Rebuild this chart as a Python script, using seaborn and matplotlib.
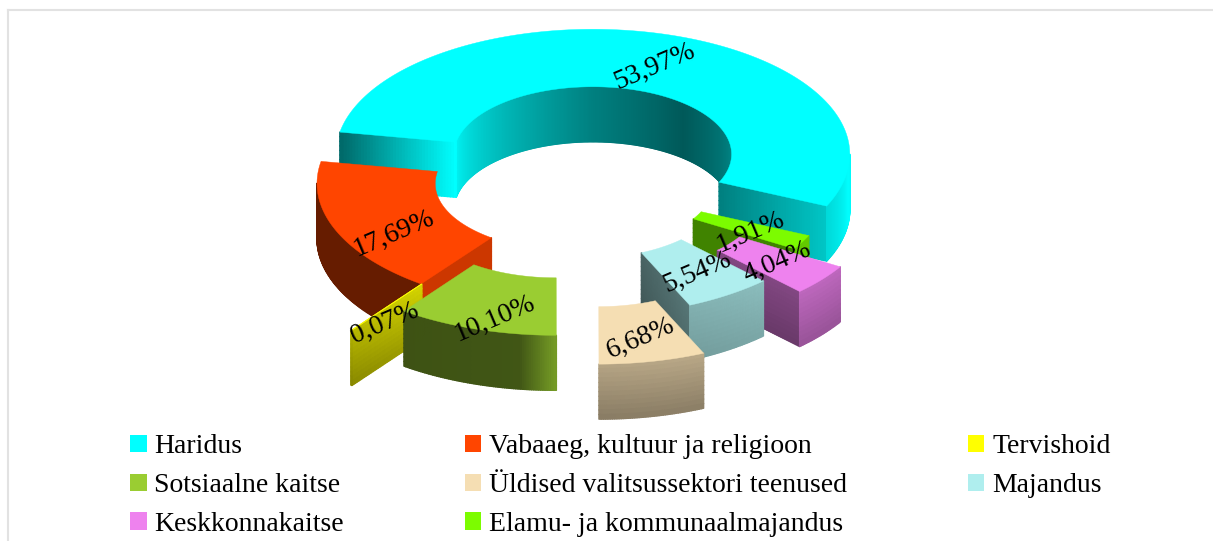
import numpy as np
import matplotlib
matplotlib.use("Agg")
import matplotlib.pyplot as plt
from matplotlib.collections import PolyCollection
from matplotlib.patches import Patch
import seaborn as sns

# Chart data
names = ["Haridus", "Vabaaeg, kultuur ja religioon", "Tervishoid", "Sotsiaalne kaitse",
         "Üldised valitsussektori teenused", "Majandus", "Keskkonnakaitse",
         "Elamu- ja kommunaalmajandus"]
shares = [53.97, 17.69, 0.07, 10.10, 6.68, 5.54, 4.04, 1.91]
share_labels = ["53,97%", "17,69%", "0,07%", "10,10%", "6,68%", "5,54%", "4,04%", "1,91%"]

sns.set_theme(style="white")
plt.rcParams["font.family"] = ["Liberation Serif", "DejaVu Sans"]
colors = sns.color_palette(["#00ffff", "#ff4500", "#ffff00", "#9acd32",
                            "#f5deb3", "#afeeee", "#ee82ee", "#7cfc00"])

# Ring geometry in pixels
hub_x, hub_y = 574, 183.5
rx, ry = 257, 125
hole = 0.54
depth = 55
start_angle = -24.5
explode = [63, 0, 118, 58, 117, 19, 60, 1]
draw_order = [0, 7, 6, 5, 4, 1, 2, 3]
label_nudge = [(3, 4), (4, 15), (-2, 16), (0, 17), (1, 5), (2, 1), (2, 0), (1, 3)]

# Shading: (angle, factor) along the walls, (inner, outer) on the cut faces, darkening downwards
outer_shade = [([-24.5, -5, 180], [0.85, 1.0, 0.45]),
               ([170, 233], [0.40, 0.40]),
               ([233, 235], [0.7, 0.7]),
               ([233, 262, 270.5], [0.40, 0.42, 0.78]),
               ([270, 295], [0.74, 0.76]),
               ([294, 315], [0.74, 0.80]),
               ([314, 329], [0.80, 0.80]),
               ([329, 336], [0.8, 0.8])]
inner_shade = ([0, 50, 90, 130, 170], [0.55, 0.35, 0.5, 0.72, 0.95])
face_shade = [{"start": (0.5, 0.78), "end": (1.0, 0.4)},
              {"end": (0.8, 0.8)},
              {"end": (0.84, 0.72)},
              {}, {},
              {"start": (0.42, 0.5)},
              {"start": (0.55, 0.55)},
              {"start": (0.52, 0.52)}]
z_fade = [0.0, 0.0, 0.25, 0.0, 0.25, 0.12, 0.2, 0.0]

fig = plt.figure(figsize=(12.13, 5.41), dpi=100)
ax = fig.add_axes([8 / 1213, 0, 1205 / 1213, 531 / 541])
ax.set_xlim(8, 1213)
ax.set_ylim(541, 10)
ax.set_xticks([])
ax.set_yticks([])
sns.despine(ax=ax, top=False, left=False, right=True, bottom=True)
for side in ["top", "left"]:
    ax.spines[side].set_color("#e2e2e2")
    ax.spines[side].set_linewidth(1.5)


def ring_point(c, r, t):
    rad = np.radians(t)
    return c[0] + r * rx * np.cos(rad), c[1] - r * ry * np.sin(rad)


def add_quads(quads, cols, z):
    ax.add_collection(PolyCollection(quads, facecolors=cols, edgecolors=cols,
                                     linewidths=1.0, zorder=z))


def draw_wall(c, r, a, b, shade, base, fade, keep, z):
    ts = np.linspace(a, b, max(int(b - a) * 2, 2) + 1)
    zs = np.linspace(0, 1, 13)
    quads, cols = [], []
    for t0, t1 in zip(ts[:-1], ts[1:]):
        mid = (t0 + t1) / 2
        if keep(np.sin(np.radians(mid))):
            f = np.interp(mid, shade[0], shade[1])
            x0, y0 = ring_point(c, r, t0)
            x1, y1 = ring_point(c, r, t1)
            for z0, z1 in zip(zs[:-1], zs[1:]):
                quads.append([(x0, y0 + z0 * depth), (x1, y1 + z0 * depth),
                              (x1, y1 + z1 * depth), (x0, y0 + z1 * depth)])
                k = f * (1 - fade * (z0 + z1) / 2)
                cols.append(tuple(np.array(base) * k))
    if quads:
        add_quads(quads, cols, z)


def draw_face(c, t, shade, base, fade, z):
    ss = np.linspace(0, 1, 41)
    zs = np.linspace(0, 1, 13)
    rs = hole + ss * (1 - hole)
    quads, cols = [], []
    for i in range(40):
        x0, y0 = ring_point(c, rs[i], t)
        x1, y1 = ring_point(c, rs[i + 1], t)
        f = shade[0] + (shade[1] - shade[0]) * ss[i]
        for z0, z1 in zip(zs[:-1], zs[1:]):
            quads.append([(x0, y0 + z0 * depth), (x1, y1 + z0 * depth),
                          (x1, y1 + z1 * depth), (x0, y0 + z1 * depth)])
            cols.append(tuple(np.array(base) * f * (1 - fade * (z0 + z1) / 2)))
    add_quads(quads, cols, z)


# Slice angles come from the shares, running counter clockwise
spans = np.array(shares) / sum(shares) * 360
starts = start_angle + np.concatenate([[0], np.cumsum(spans)[:-1]])

for order, i in enumerate(draw_order):
    a, b = starts[i], starts[i] + spans[i]
    mid = np.radians((a + b) / 2)
    c = (hub_x + explode[i] * np.cos(mid), hub_y - explode[i] * np.sin(mid) * ry / rx)
    z = 2 + order

    if i == 0:
        draw_wall(c, hole, a, b, inner_shade, colors[i], 0, lambda s: s > 0, z)
    for side, t in [("start", a), ("end", b)]:
        if side in face_shade[i]:
            draw_face(c, t, face_shade[i][side], colors[i], z_fade[i], z)
    draw_wall(c, 1, a, b, outer_shade[i], colors[i], z_fade[i], lambda s: s < 0, z)

    ts = np.linspace(a, b, max(int(b - a) * 2, 2) + 1)
    ox, oy = ring_point(c, 1, ts)
    ix, iy = ring_point(c, hole, ts[::-1])
    ax.fill(np.r_[ox, ix], np.r_[oy, iy], color=colors[i], lw=0.3, zorder=z)

    lx, ly = ring_point(c, 0.77, np.degrees(mid))
    ax.text(lx + label_nudge[i][0], ly + label_nudge[i][1], share_labels[i], fontsize=20,
            rotation=23, rotation_mode="anchor", ha="center", va="center",
            color="black", zorder=20)

# Legend fills column by column, so reorder to read row by row
legend_order = [0, 3, 6, 1, 4, 7, 2, 5]
handles = [Patch(facecolor=colors[i], edgecolor="none", label=names[i]) for i in legend_order]
ax.legend(handles=handles, ncol=3, loc="lower left", bbox_to_anchor=(130, 537),
          bbox_transform=ax.transData, frameon=False, fontsize=20, borderpad=0, borderaxespad=0,
          handlelength=0.6, handleheight=0.6, handletextpad=0.28, labelspacing=0.5,
          columnspacing=4.34, labelcolor="black")

plt.savefig("out.png", dpi=100)
